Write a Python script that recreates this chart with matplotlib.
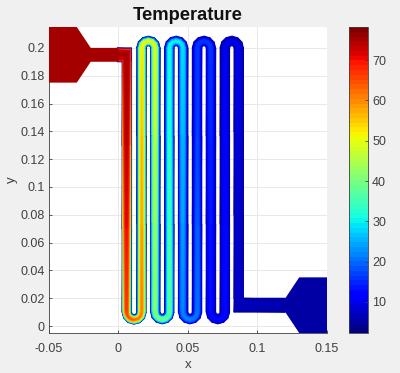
import numpy as np
import matplotlib
matplotlib.use('Agg')
import matplotlib.pyplot as plt

plt.rcParams['font.family'] = ['Liberation Sans', 'DejaVu Sans']

# x of the channel legs
leg_x = [0.006, 0.0165, 0.0265, 0.0365, 0.0465, 0.0565, 0.0665, 0.0765, 0.0865]
y_top = 0.2
y_bottom = 0.01
y_outlet = 0.015
x_outlet = 0.12

# centre temperature along each leg, first value is where the leg starts
leg_temps = [
  [75, 74, 71, 66],
  [61, 58, 56, 52],
  [49, 46, 43, 41],
  [38, 35, 33, 31],
  [29, 26, 24, 22],
  [21, 19, 17, 16],
  [16, 15, 14, 13],
  [13, 12, 11, 10],
  [10, 9, 8, 8],
]
# centre temperature around each U turn
turn_temps = [
  [65, 64, 63, 62, 61],
  [51, 51, 50, 50, 50],
  [40, 40, 39, 39, 38],
  [31, 30, 30, 30, 29],
  [22, 22, 22, 21, 21],
  [16, 16, 16, 16, 16],
  [13, 13, 13, 13, 13],
  [10, 10, 10, 10, 10],
]
corner_temp = 75
end_temps = [7, 6]

# how the temperature falls off from the middle to the wall
cross_t = [-1, -0.85, -0.7, -0.5, -0.3, -0.15, 0, 0.15, 0.3, 0.5, 0.7, 0.85, 1]
cross_profile = [0, 0.38, 0.62, 0.84, 0.95, 0.99, 1, 0.99, 0.95, 0.84, 0.62, 0.38, 0]
# rim sharpness in the first legs (hot core still flat there), 1 further on
leg_power = [[0.12, 0.3, 0.5, 0.8], [0.9, 1, 1, 1]]
wall_temp = 5

inlet_x = [-0.05, -0.03, -0.02, 0.0, 0.0, -0.02, -0.03, -0.05]
inlet_y = [0.215, 0.215, 0.2, 0.2, 0.19, 0.19, 0.175, 0.175]
inlet_temp = 75
outlet_x = [0.118, 0.12, 0.13, 0.15, 0.15, 0.13, 0.12, 0.118]
outlet_y = [0.02, 0.02, 0.035, 0.035, -0.005, -0.005, 0.01, 0.01]
outlet_temp = 5

x_ticks = [-0.05, 0, 0.05, 0.1, 0.15]
x_labels = ['-0.05', '0', '0.05', '0.1', '0.15']
y_ticks = [0, 0.02, 0.04, 0.06, 0.08, 0.1, 0.12, 0.14, 0.16, 0.18, 0.2]
y_labels = ['0', '0.02', '0.04', '0.06', '0.08', '0.1', '0.12', '0.14', '0.16', '0.18', '0.2']
c_ticks = [10, 20, 30, 40, 50, 60, 70]
c_min = 2.3
c_max = 78.2

half_w = 0.0034
half_h = 0.005
text_col = '#404040'


def add_leg(nodes, x, y_start, y_end, temps, sign, power):
  ys = np.linspace(y_start, y_end, len(temps))
  for yy, t, p in zip(ys, temps, power):
    nodes.append((x, yy, sign * half_w, 0, t, p))


def add_turn(nodes, x1, x2, yc, temps, bottom):
  r = (x2 - x1) / 2
  xm = (x1 + x2) / 2
  n = len(temps)
  for i, t in enumerate(temps):
    a = np.pi * (i + 1) / (n + 1)
    if bottom:
      ang = np.pi + a
      s = -1
    else:
      ang = np.pi - a
      s = 1
    nodes.append((xm + r * np.cos(ang), yc + r * np.sin(ang),
      s * half_w * np.cos(ang), s * half_w * np.sin(ang), t, 1))


def build_nodes():
  nodes = [(-0.001, 0.195, 0, half_h, corner_temp, 0.1),
    (leg_x[0], 0.195, half_w, half_h, corner_temp, 0.12)]
  for i in range(9):
    going_down = i % 2 == 0
    sign = 1 if going_down else -1
    power = leg_power[i] if i < 2 else [1, 1, 1, 1]
    if going_down:
      ys = (0.19 if i == 0 else y_top, y_bottom if i < 8 else y_outlet + half_h)
    else:
      ys = (y_bottom, y_top)
    add_leg(nodes, leg_x[i], ys[0], ys[1], leg_temps[i], sign, power)
    if i < 8:
      add_turn(nodes, leg_x[i], leg_x[i + 1], y_bottom if going_down else y_top,
        turn_temps[i], going_down)
  nodes.append((leg_x[8], y_outlet, half_w, half_h, end_temps[0], 1))
  nodes.append((x_outlet, y_outlet, 0, half_h, end_temps[1], 1))
  return np.array(nodes)


nodes = build_nodes()
t = np.array(cross_t)
p = np.array(cross_profile)
X = nodes[:, 0:1] + nodes[:, 2:3] * t
Y = nodes[:, 1:2] + nodes[:, 3:4] * t
C = wall_temp + (nodes[:, 4:5] - wall_temp) * p ** nodes[:, 5:6]

# two triangles per cell, so long thin cells do not smear the cross profile
n_long, n_cross = X.shape
tris = []
for i in range(n_long - 1):
  for j in range(n_cross - 1):
    a = i * n_cross + j
    b = a + 1
    c = a + n_cross
    d = c + 1
    tris.append([a, b, c])
    tris.append([b, d, c])

fig = plt.figure(figsize=(4, 3.73), dpi=100, facecolor='#f0f0f0')
ax = fig.add_axes([49 / 400, 1 - 333 / 373, 278 / 400, 306 / 373])
cmap = plt.get_cmap('jet', 64)
mesh = ax.tripcolor(X.ravel(), Y.ravel(), tris, C.ravel(), shading='gouraud', cmap=cmap,
  vmin=c_min, vmax=c_max, zorder=2)

norm = mesh.norm
ax.fill(inlet_x, inlet_y, color=cmap(norm(inlet_temp)), lw=0, zorder=4)
ax.fill(outlet_x, outlet_y, color=cmap(norm(outlet_temp)), lw=0, zorder=4)

ax.set_xlim(-0.05, 0.15)
ax.set_ylim(-0.005, 0.215)
ax.set_xticks(x_ticks)
ax.set_xticklabels(x_labels)
ax.set_yticks(y_ticks)
ax.set_yticklabels(y_labels)
ax.grid(True, color='#e8e8e8', lw=0.7, zorder=0)
ax.set_axisbelow(True)
ax.tick_params(direction='in', length=2.5, width=0.6, color=text_col, labelcolor=text_col,
  labelsize=9, pad=3)
ax.tick_params(axis='x', pad=7)
for side in ['top', 'right']:
  ax.spines[side].set_visible(False)
for side in ['left', 'bottom']:
  ax.spines[side].set_color(text_col)
  ax.spines[side].set_linewidth(0.6)
ax.set_xlabel('x', fontsize=9.5, color=text_col, labelpad=3)
ax.set_ylabel('y', fontsize=9.5, color=text_col, labelpad=2)
ax.set_title('Temperature', fontsize=13.2, fontweight='bold', color='#111111', pad=5)

cax = fig.add_axes([349 / 400, 1 - 333 / 373, 19 / 400, 306 / 373])
cbar = fig.colorbar(mesh, cax=cax)
cbar.set_ticks(c_ticks)
cbar.ax.tick_params(direction='in', length=2.5, width=0.6, color=text_col, labelcolor=text_col,
  labelsize=9, pad=3)
cbar.outline.set_edgecolor(text_col)
cbar.outline.set_linewidth(0.6)

fig.savefig('out.png', dpi=100, facecolor=fig.get_facecolor())
